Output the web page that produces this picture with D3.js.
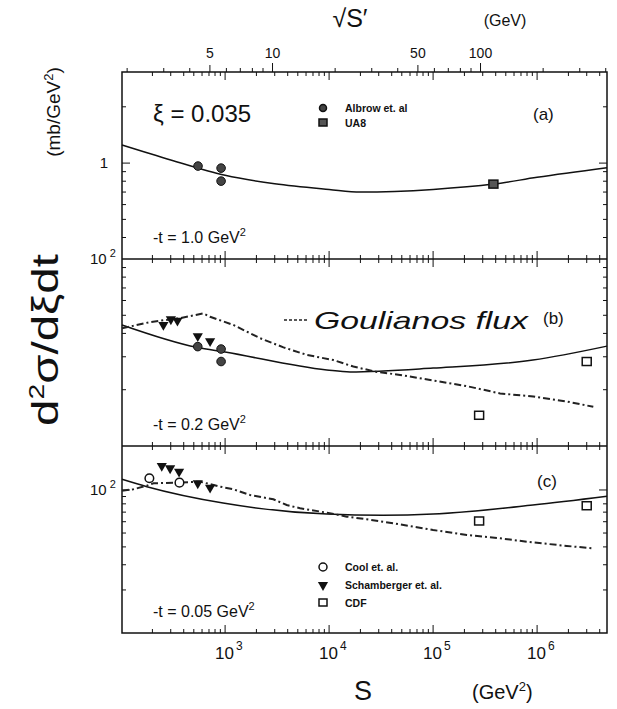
<!DOCTYPE html>
<html lang="en">
<head>
<meta charset="utf-8">
<title>d2sigma/dxidt versus s</title>
<script src="https://cdn.jsdelivr.net/npm/d3@7"></script>
<style>
body { margin: 0; background: #fff; }
text { font-family: "Liberation Sans", Arial, sans-serif; fill: #111; }
</style>
</head>
<body>
<div id="chart"></div>
<script>
// x axis: s in GeV^2, top axis sqrt(s') with s' = xi * s
var xi = 0.035
var sDomain = [102, 4.7e6]
var sLabelTicks = [1e3, 1e4, 1e5, 1e6]
var rootTicks = [2, 3, 4, 5, 6, 7, 8, 9, 10, 20, 30, 40, 50, 60, 70, 80, 90, 100, 200, 300, 400]
var rootLabels = [5, 10, 50, 100]

// panel (a), -t = 1.0 GeV^2
var curveA = [[102, 1.25], [300, 1.04], [1e3, 0.86], [3e3, 0.775], [1e4, 0.723], [2e4, 0.70],
              [1e5, 0.723], [3.8e5, 0.772], [1e6, 0.839], [4.7e6, 0.944]]
var albrowA = [[549, 0.964], [915, 0.94], [915, 0.801]]
var ua8A = [[3.8e5, 0.772]]

// panel (b), -t = 0.2 GeV^2
var curveB = [[102, 44.4], [535, 33.7], [1e3, 31.8], [9.5e3, 25.5], [1.59e4, 24.9],
              [1e5, 26.1], [9.1e5, 28.8], [4.7e6, 34.2]]
var fluxB = [[102, 42.6], [190, 46.0], [370, 48.3], [618, 51.2], [717, 49.1], [1.2e3, 44.4],
             [2.17e3, 37.7], [3.64e3, 33.7], [6.1e3, 30.7], [1.1e4, 28.8], [1.71e4, 26.6],
             [2.87e4, 24.9], [4.82e4, 24.0], [1e5, 22.4], [2.11e5, 20.9], [4.41e5, 19.1],
             [9.2e5, 18.4], [1.93e6, 17.3], [3.47e6, 16.2]]
var schamB = [[255, 44.4], [301, 47.6], [348, 46.8], [546, 38.7], [717, 36.4]]
var albrowB = [[546, 34.0], [915, 33.0], [915, 28.3]]
var cdfB = [[2.77e5, 14.6], [3.0e6, 28.3]]

// panel (c), -t = 0.05 GeV^2
var curveC = [[102, 118.8], [177, 105.5], [956, 81.1], [9.5e3, 67.9], [3.3e4, 66.6],
              [1e5, 67.9], [9.1e5, 78.5], [4.7e6, 90.5]]
var fluxC = [[102, 98.9], [131, 101.1], [177, 107.2], [205, 111.4], [364, 112.5], [575, 114.3],
             [895, 105.5], [1.2e3, 101.1], [1.74e3, 92.3], [2.91e3, 86.1], [3.91e3, 78.5],
             [5.26e3, 74.5], [9.5e3, 69.4], [1.48e4, 65.1], [2.3e4, 62.4], [4.15e4, 58.5],
             [6.97e4, 54.9], [1e5, 52.5], [2.11e5, 48.5], [4.41e5, 45.9], [7.96e5, 43.5],
             [1.93e6, 40.6], [3.47e6, 39.1]]
var coolC = [[187, 120.7], [364, 112.5]]
var schamC = [[246, 147.2], [296, 141.8], [361, 134.3], [546, 111.4], [717, 103.8]]
var cdfC = [[2.77e5, 60.7], [3.0e6, 77.6]]

var w = 617
var h = 709
var left = 122
var right = 607
var panelH = 187

var panels = [
	{top: 72, domain: [0.307, 3.07], label: 1, curve: curveA, flux: null,
	 tag: "(a)", tagX: 533, tagY: 120, tval: "-t = 1.0 GeV"},
	{top: 259, domain: [10, 100], label: 100, curve: curveB, flux: fluxB,
	 tag: "(b)", tagX: 543, tagY: 324, tval: "-t = 0.2 GeV"},
	{top: 446, domain: [10, 203], label: 100, curve: curveC, flux: fluxC,
	 tag: "(c)", tagX: 537, tagY: 487, tval: "-t = 0.05 GeV"}
]

var svg = d3.select("#chart")
	.append("svg")
	.attr("width", w)
	.attr("height", h)

svg.append("rect").attr("width", w).attr("height", h).attr("fill", "#fff")

var xScale = d3.scaleLog()
	.domain(sDomain)
	.range([left, right])

panels.forEach(function(p) {
	p.y = d3.scaleLog().domain(p.domain).range([p.top + panelH, p.top])
})

// frame
svg.append("rect")
	.attr("x", left).attr("y", 72)
	.attr("width", right - left).attr("height", panelH * 3)
	.attr("fill", "none").attr("stroke", "#111").attr("stroke-width", 1.5)

svg.selectAll(".sep")
	.data([259, 446])
	.enter()
	.append("line")
	.attr("x1", left).attr("x2", right)
	.attr("y1", function(d) { return d }).attr("y2", function(d) { return d })
	.attr("stroke", "#111").attr("stroke-width", 1.5)

// s ticks along every horizontal line
var sTicks = []
for (var k = 2; k <= 6; k++) {
	for (var m = 1; m <= 9; m++) {
		var v = m * Math.pow(10, k)
		if (v > sDomain[0] * 1.02 && v < sDomain[1] * 0.99) sTicks.push({s: v, major: m == 1})
	}
}
var hLines = [{y: 72, up: 0, down: 1}, {y: 259, up: 1, down: 1}, {y: 446, up: 1, down: 1}, {y: 633, up: 1, down: 0}]
hLines.forEach(function(hl) {
	svg.append("g").selectAll("line")
		.data(sTicks)
		.enter()
		.append("line")
		.attr("x1", function(d) { return xScale(d.s) })
		.attr("x2", function(d) { return xScale(d.s) })
		.attr("y1", function(d) { return hl.y - (d.major ? 8 : 4) * hl.up })
		.attr("y2", function(d) { return hl.y + (d.major ? 8 : 4) * hl.down })
		.attr("stroke", "#111").attr("stroke-width", 1)
})

// top axis sqrt(s')
function sFromRoot(r) { return r * r / xi }
svg.append("g").selectAll("line")
	.data(rootTicks)
	.enter()
	.append("line")
	.attr("x1", function(d) { return xScale(sFromRoot(d)) })
	.attr("x2", function(d) { return xScale(sFromRoot(d)) })
	.attr("y1", 72)
	.attr("y2", function(d) { return 72 - (d == 10 || d == 100 ? 9 : (d == 5 || d == 50 ? 7 : 4)) })
	.attr("stroke", "#111").attr("stroke-width", 1)

svg.append("g").selectAll("text")
	.data(rootLabels)
	.enter()
	.append("text")
	.attr("x", function(d) { return xScale(sFromRoot(d)) })
	.attr("y", 58)
	.attr("text-anchor", "middle")
	.attr("font-size", 14)
	.text(function(d) { return d })

svg.append("text").attr("x", 350).attr("y", 27).attr("text-anchor", "middle")
	.attr("font-size", 25).text("√S′")
svg.append("text").attr("x", 505).attr("y", 26).attr("text-anchor", "middle")
	.attr("font-size", 16).text("(GeV)")

// bottom labels
var bl = svg.append("g").selectAll("text")
	.data(sLabelTicks)
	.enter()
	.append("text")
	.attr("x", function(d) { return xScale(d) - 10 })
	.attr("y", 659)
	.attr("font-size", 17)
bl.append("tspan").text("10")
bl.append("tspan").attr("dy", -9).attr("dx", 2).attr("font-size", 12)
	.text(function(d) { return Math.round(Math.log10(d)) })

svg.append("text").attr("x", 363).attr("y", 700).attr("text-anchor", "middle")
	.attr("font-size", 27).text("S")
var gu = svg.append("text").attr("x", 472).attr("y", 699).attr("font-size", 20)
gu.append("tspan").text("(GeV")
gu.append("tspan").attr("dy", -8).attr("font-size", 13).text("2")
gu.append("tspan").attr("dy", 8).text(")")

// y axis titles
var yt = svg.append("text")
	.attr("transform", "translate(58,340) rotate(-90)")
	.attr("text-anchor", "middle")
	.attr("font-size", 37)
	.attr("textLength", 172)
	.attr("lengthAdjust", "spacingAndGlyphs")
yt.append("tspan").text("d")
yt.append("tspan").attr("dy", -14).attr("font-size", 22).text("2")
yt.append("tspan").attr("dy", 14).text("σ/dξdt")

var ym = svg.append("text")
	.attr("transform", "translate(60,112) rotate(-90)")
	.attr("text-anchor", "middle")
	.attr("font-size", 19)
ym.append("tspan").text("(mb/GeV")
ym.append("tspan").attr("dy", -7).attr("font-size", 13).text("2")
ym.append("tspan").attr("dy", 7).text(")")

var line = d3.line()

panels.forEach(function(p) {
	var g = svg.append("g")
	var y = p.y

	// y ticks
	var yt = []
	var k0 = Math.floor(Math.log10(p.domain[0])), k1 = Math.ceil(Math.log10(p.domain[1]))
	for (var k = k0; k <= k1; k++) {
		for (var m = 1; m <= 9; m++) {
			var v = m * Math.pow(10, k)
			if (y(v) > p.top + 2 && y(v) < p.top + panelH - 2) yt.push({v: v, major: m == 1})
		}
	}
	g.selectAll(".yl")
		.data(yt)
		.enter()
		.append("line")
		.attr("x1", left).attr("x2", function(d) { return left + (d.major ? 8 : 4) })
		.attr("y1", function(d) { return y(d.v) }).attr("y2", function(d) { return y(d.v) })
		.attr("stroke", "#111").attr("stroke-width", 1)
	g.selectAll(".yr")
		.data(yt)
		.enter()
		.append("line")
		.attr("x1", right).attr("x2", function(d) { return right - (d.major ? 8 : 4) })
		.attr("y1", function(d) { return y(d.v) }).attr("y2", function(d) { return y(d.v) })
		.attr("stroke", "#111").attr("stroke-width", 1)

	// y label
	if (p.label == 1) {
		g.append("text").attr("x", 108).attr("y", y(1) + 5).attr("text-anchor", "end")
			.attr("font-size", 15).text("1")
	} else {
		var lt = g.append("text").attr("x", 90).attr("y", y(p.label) + 5).attr("font-size", 15)
		lt.append("tspan").text("10")
		lt.append("tspan").attr("dx", 3).attr("dy", -7).attr("font-size", 11).text("2")
	}

	line.x(function(d) { return xScale(d[0]) })
		.y(function(d) { return y(d[1]) })

	g.append("path")
		.attr("d", line.curve(d3.curveMonotoneX)(p.curve))
		.attr("fill", "none").attr("stroke", "#111").attr("stroke-width", 1.5)

	if (p.flux) {
		g.append("path")
			.attr("d", line.curve(d3.curveLinear)(p.flux))
			.attr("fill", "none").attr("stroke", "#222").attr("stroke-width", 2)
			.attr("stroke-dasharray", "7,3,2,3")
	}

	g.append("text").attr("x", p.tagX).attr("y", p.tagY).attr("font-size", 17).text(p.tag)

	var tv = g.append("text").attr("x", 153).attr("y", p.top + panelH - 16).attr("font-size", 16)
	tv.append("tspan").text(p.tval)
	tv.append("tspan").attr("dy", -7).attr("font-size", 11).text("2")
})

// markers
var pa = panels[0], pb = panels[1], pc = panels[2]

function circles(data, p, filled) {
	svg.append("g").selectAll("circle")
		.data(data)
		.enter()
		.append("circle")
		.attr("cx", function(d) { return xScale(d[0]) })
		.attr("cy", function(d) { return p.y(d[1]) })
		.attr("r", 4.3)
		.attr("fill", filled ? "#444" : "#fff")
		.attr("stroke", "#111").attr("stroke-width", filled ? 1 : 1.5)
}
function squares(data, p, filled) {
	svg.append("g").selectAll("rect")
		.data(data)
		.enter()
		.append("rect")
		.attr("x", function(d) { return xScale(d[0]) - 4.5 })
		.attr("y", function(d) { return p.y(d[1]) - 4 })
		.attr("width", 9).attr("height", 8)
		.attr("fill", filled ? "#555" : "#fff")
		.attr("stroke", "#111").attr("stroke-width", 1.5)
}
var tri = d3.symbol().type(d3.symbolTriangle).size(45)
function triangles(data, p) {
	svg.append("g").selectAll("path")
		.data(data)
		.enter()
		.append("path")
		.attr("d", tri)
		.attr("transform", function(d) { return "translate(" + xScale(d[0]) + "," + p.y(d[1]) + ") rotate(180)" })
		.attr("fill", "#111")
}

circles(albrowA, pa, true)
squares(ua8A, pa, true)
triangles(schamB, pb)
circles(albrowB, pb, true)
squares(cdfB, pb, false)
circles(coolC, pc, false)
triangles(schamC, pc)
squares(cdfC, pc, false)

// texts and legends
svg.append("text").attr("x", 153).attr("y", 122).attr("font-size", 24).text("ξ = 0.035")

var legA = [{label: "Albrow et. al", y: 108, kind: "fc"}, {label: "UA8", y: 123, kind: "fs"}]
var legC = [{label: "Cool et. al.", y: 567, kind: "oc"}, {label: "Schamberger et. al.", y: 585, kind: "t"},
            {label: "CDF", y: 603, kind: "os"}]

function legend(items) {
	var g = svg.append("g")
	items.forEach(function(it) {
		if (it.kind == "fc" || it.kind == "oc") {
			g.append("circle").attr("cx", 323).attr("cy", it.y).attr("r", it.kind == "fc" ? 3.5 : 4)
				.attr("fill", it.kind == "fc" ? "#444" : "#fff").attr("stroke", "#111").attr("stroke-width", 1.5)
		} else if (it.kind == "fs" || it.kind == "os") {
			g.append("rect").attr("x", 319).attr("y", it.y - 4).attr("width", 8).attr("height", 7)
				.attr("fill", it.kind == "fs" ? "#555" : "#fff").attr("stroke", "#111").attr("stroke-width", 1.5)
		} else {
			g.append("path").attr("d", tri).attr("transform", "translate(323," + it.y + ") rotate(180)")
				.attr("fill", "#111")
		}
		g.append("text").attr("x", 345).attr("y", it.y + 4).attr("font-size", 10.5)
			.attr("font-weight", "bold").text(it.label)
	})
}
legend(legA)
legend(legC)

// hand-written annotation of the dashed curve
svg.append("line").attr("x1", 284).attr("x2", 307).attr("y1", 320).attr("y2", 320)
	.attr("stroke", "#222").attr("stroke-width", 1.5).attr("stroke-dasharray", "3,2")
svg.append("text").attr("x", 314).attr("y", 329).attr("font-size", 24)
	.attr("font-style", "italic").attr("font-family", "DejaVu Sans")
	.attr("textLength", 214).attr("lengthAdjust", "spacingAndGlyphs")
	.text("Goulianos flux")
</script>
</body>
</html>
